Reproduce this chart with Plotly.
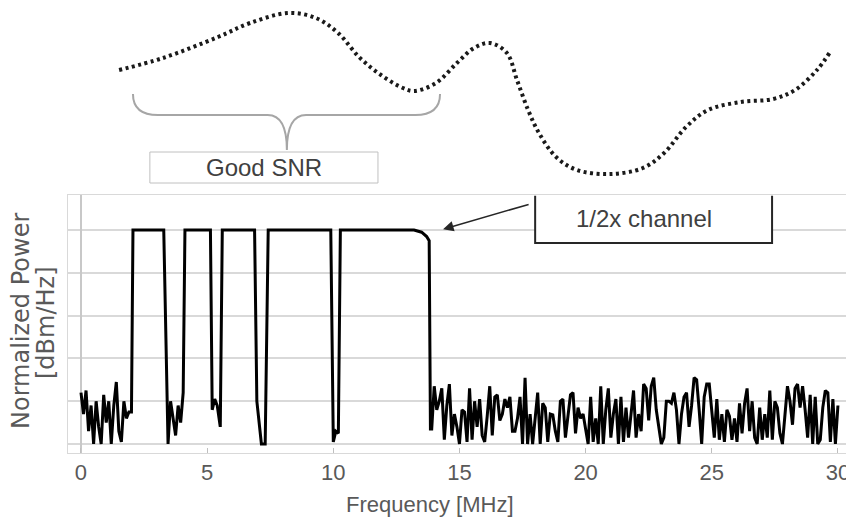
import numpy as np
import plotly.graph_objects as go

# noise floor below the first channel, 0.0 .. 1.9 MHz every 0.1 MHz
noise_start = [1.2, 0.7, 1.25, 0.3, 0.9, 0.0, 1.0, 0.4, 0.0, 1.15,
               0.5, 1.0, 0.0, 0.9, 1.45, 0.3, 0.05, 1.0, 0.6, 0.75]

# channels and the gaps between them (MHz, normalized power)
band_freq = [2.0, 2.06, 3.28, 3.45, 3.55, 3.65, 3.75, 3.85, 3.95, 4.05, 4.12,
             5.1, 5.13, 5.2, 5.3, 5.4, 5.52, 5.6,
             6.88, 6.97, 7.05, 7.15, 7.3, 7.42,
             9.9, 10.0, 10.1, 10.2, 10.28,
             13.2, 13.5, 13.7, 13.8, 13.85]
band_power = [0.75, 5.0, 5.0, 0.0, 1.0, 0.55, 0.2, 0.9, 0.5, 1.2, 5.0,
              5.0, 5.0, 0.8, 1.05, 0.9, 0.4, 5.0,
              5.0, 1.0, 0.6, 0.0, 0.0, 5.0,
              5.0, 0.05, 0.3, 0.25, 5.0,
              5.0, 4.95, 4.85, 4.75, 0.35]

# noise floor above the channels, 13.9 .. 30.0 MHz every 0.1 MHz
noise_end = [0.35, 1.35, 0.8, 1.0, 1.3, 0.1, 0.9, 1.4, 0.2, 0.7,
             0.4, 0.0, 0.8, 0.75, 0.05, 1.3, 0.1, 1.0, 0.4, 1.05,
             0.2, 0.05, 0.65, 1.35, 0.2, 1.1, 1.15, 0.55, 0.7, 1.05,
             0.85, 1.1, 0.3, 0.3, 0.6, 1.1, 0.0, 1.55, 0.0, 0.7,
             0.0, 0.6, 1.2, 0.0, 0.95, 0.85, 0.05, 0.7, 0.68, 0.3,
             0.05, 1.0, 1.05, 0.15, 0.6, 1.15, 1.2, 0.25, 0.85, 0.6,
             0.7, 0.3, 0.0, 1.1, 0.05, 0.6, 0.0, 1.35, 0.0, 0.8,
             1.3, 0.15, 0.7, 1.05, 0.0, 1.1, 0.05, 0.85, 0.15, 0.7,
             1.25, 0.15, 0.7, 0.3, 1.4, 1.3, 0.55, 1.35, 1.55, 0.8,
             0.45, 0.0, 0.15, 1.0, 1.0, 0.95, 1.2, 0.8, 0.0, 0.7,
             1.1, 1.2, 0.4, 0.9, 1.55, 1.5, 0.8, 0.0, 1.1, 1.4,
             1.4, 0.7, 0.15, 1.05, 0.1, 0.7, 0.05, 0.8, 0.65, 0.1,
             0.6, 0.05, 0.95, 0.25, 0.95, 1.3, 0.3, 1.0, 0.15, 0.0,
             0.85, 0.1, 0.7, 0.15, 1.25, 0.1, 1.0, 0.85, 0.25, 0.0,
             0.65, 1.35, 1.0, 0.45, 1.3, 1.4, 0.85, 1.35, 0.8, 0.15,
             1.15, 0.0, 1.1, 0.0, 0.1, 0.85, 1.25, 1.2, 0.05, 1.05,
             0.0, 0.9]

# SNR curve drawn above the spectrum
snr_freq = [1.51, 3.25, 5.43, 6.70, 8.24, 9.31, 10.19, 11.02, 11.89, 12.76,
            13.20, 14.07, 14.90, 15.58, 16.21, 16.88, 17.28, 17.72, 18.15, 18.83,
            19.66, 20.97, 22.27, 23.11, 23.98, 24.85, 26.16, 27.43, 28.30, 29.17,
            29.69]
snr_value = [24.0, 26.4, 30.6, 33.4, 35.4, 34.4, 31.4, 26.6, 23.0, 20.4,
             19.8, 21.4, 25.4, 28.4, 29.4, 27.4, 22.0, 16.0, 11.4, 6.6,
             4.0, 3.2, 4.4, 7.4, 12.6, 16.0, 17.6, 18.2, 20.0, 24.0,
             27.6]

x_ticks = [0, 5, 10, 15, 20, 25, 30]

freq_start = np.round(np.linspace(0.0, 1.9, len(noise_start)), 2)
freq_end = np.round(np.linspace(13.9, 30.0, len(noise_end)), 2)
freq = list(freq_start) + band_freq + list(freq_end)
power = noise_start + band_power + noise_end

# the page body adds an 8px margin, so the figure is a little smaller
OFF = 8
W, H = 854 - OFF, 524 - OFF


def px(x):
    return (x - OFF) / W


def py(y):
    return 1 - (y - OFF) / H


x_domain = [px(68), px(846)]
x_range = [-0.515, 30.32]

fig = go.Figure()
fig.add_trace(go.Scatter(x=freq, y=power, mode="lines",
                         line=dict(color="black", width=3),
                         hoverinfo="skip", showlegend=False))
fig.add_trace(go.Scatter(x=snr_freq, y=snr_value, xaxis="x2", yaxis="y2", mode="lines",
                         line=dict(color="#1a1a1a", width=4, dash="3px,3.5px",
                                   shape="spline", smoothing=1.0),
                         hoverinfo="skip", showlegend=False))

# brace over the good-SNR range
fig.add_shape(type="path", xref="x2", yref="y2",
              path="M 2.06,19.2 Q 2.06,15 3.05,15 L 7.4,15 Q 8.16,15 8.16,8 "
                   "Q 8.16,15 8.92,15 L 13.25,15 Q 14.23,15 14.23,19.2",
              line=dict(color="#a6a6a6", width=2))
fig.add_shape(type="rect", xref="x2", yref="y2", x0=2.73, x1=11.77, y0=1.4, y1=7.6,
              fillcolor="white", line=dict(color="#c0c0c0", width=1))
fig.add_annotation(x=7.25, y=4.5, xref="x2", yref="y2", text="Good SNR",
                   showarrow=False, font=dict(family="Liberation Sans", size=24,
                                              color="#404040"))

# callout box for the half-width channel
fig.add_shape(type="rect", xref="x", yref="y", x0=18.0, x1=27.39, y0=4.7, y1=5.82,
              fillcolor="white", line=dict(width=0), layer="above")
fig.add_shape(type="path", xref="x", yref="y",
              path="M 18.0,5.8 L 18.0,4.7 L 27.39,4.7 L 27.39,5.8",
              line=dict(color="#262626", width=2))
fig.add_annotation(x=22.3, y=5.26, xref="x", yref="y", text="1/2x channel",
                   showarrow=False, font=dict(family="Liberation Sans", size=24,
                                              color="#404040"))
fig.add_annotation(x=14.35, y=5.02, ax=17.8, ay=5.61, xref="x", yref="y",
                   axref="x", ayref="y", text="", showarrow=True,
                   arrowhead=2, arrowsize=1.4, arrowwidth=1.5, arrowcolor="#262626")

# y title as two rotated lines
ytitle_font = dict(family="DejaVu Sans", size=24, color="#595959")
fig.add_annotation(x=px(21), y=py(321), xref="paper", yref="paper",
                   xanchor="center", yanchor="middle",
                   text="Normalized Power", textangle=-90, showarrow=False,
                   font=ytitle_font)
fig.add_annotation(x=px(46), y=py(323), xref="paper", yref="paper",
                   xanchor="center", yanchor="middle",
                   text="[dBm/Hz]", textangle=-90, showarrow=False,
                   font=ytitle_font)
fig.add_annotation(x=px(430), y=py(504), xref="paper", yref="paper",
                   xanchor="center", yanchor="middle",
                   text="Frequency [MHz]", showarrow=False,
                   font=dict(family="Liberation Sans", size=22, color="#595959"))

fig.update_layout(
    width=W, height=H,
    margin=dict(l=0, r=0, t=0, b=0),
    paper_bgcolor="white", plot_bgcolor="white",
    xaxis=dict(domain=x_domain, range=x_range, automargin=False,
               tickvals=x_ticks, ticks="inside", ticklen=5, tickcolor="#bfbfbf",
               tickfont=dict(family="Liberation Sans", size=22, color="#595959"),
               showgrid=False, zeroline=True, zerolinecolor="#c8c8c8",
               zerolinewidth=2, showline=True, mirror=True,
               linecolor="#d9d9d9", linewidth=1),
    yaxis=dict(domain=[py(453), py(195)], range=[-0.21, 5.82],
               automargin=False, tickvals=[0, 1, 2, 3, 4, 5], showticklabels=False,
               gridcolor="#d9d9d9", gridwidth=2, zeroline=False,
               showline=True, mirror=True, linecolor="#d9d9d9", linewidth=1),
    xaxis2=dict(domain=x_domain, range=x_range, anchor="y2", visible=False),
    yaxis2=dict(domain=[py(190), 1.0], range=[0, 36.4], anchor="x2",
                visible=False),
)

fig.write_html("out.html")
